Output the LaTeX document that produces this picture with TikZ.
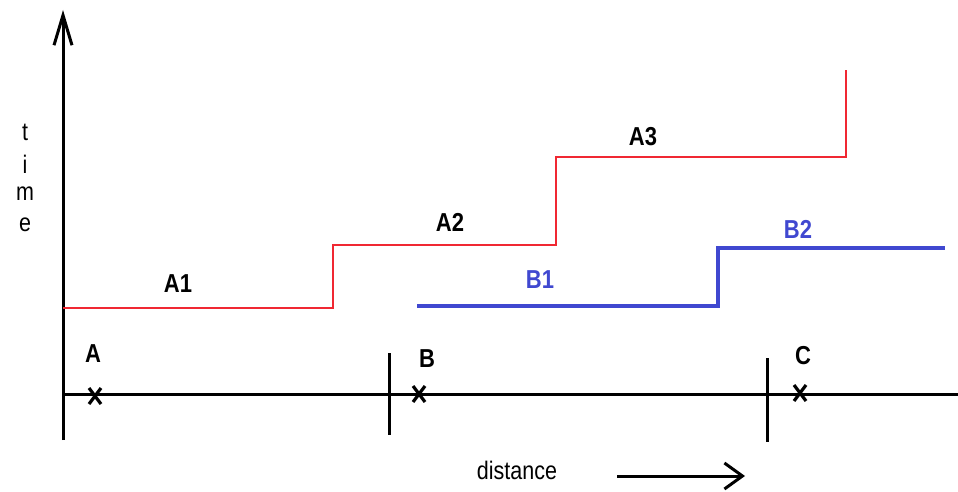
\documentclass[tikz,border=0pt]{standalone}
\usepackage{fontspec}
\setmainfont{Liberation Sans}
\usetikzlibrary{arrows.meta}
\definecolor{redline}{RGB}{240,40,50}
\definecolor{blueline}{RGB}{64,72,208}
\newcommand{\tallt}[1]{\scalebox{1}[1.18]{#1}}
\begin{document}
\begin{tikzpicture}[x=1pt,y=-1pt,
  axis/.style={line width=3pt,black},
  tickline/.style={line width=3pt,black},
  redpath/.style={line width=1.6pt,redline},
  bluepath/.style={line width=4pt,blueline},
  cross/.style={line width=3.2pt,black},
  lbl/.style={font=\fontsize{22}{24}\selectfont\bfseries,inner sep=0pt},
  bluelbl/.style={lbl,text=blueline},
  plain/.style={font=\fontsize{21.5}{24}\selectfont,inner sep=0pt}]
\useasboundingbox (0,0) rectangle (958,492);
% axes
\coordinate (ybot) at (63,440);
\coordinate (ytop) at (63,10);
\coordinate (xl) at (63,394);
\coordinate (xr) at (958,394);
\draw[axis,-{Straight Barb[length=30pt,width=18pt,line width=3pt]}] (ybot) -- (ytop);
\draw[axis] (xl) -- (xr);
% ticks
\coordinate (t1a) at (389,353); \coordinate (t1b) at (389,435);
\coordinate (t2a) at (767,358); \coordinate (t2b) at (767,442);
\draw[tickline] (t1a) -- (t1b);
\draw[tickline] (t2a) -- (t2b);
% crosses
\foreach \n/\cx/\cy in {xa/95/396, xb/419/394, xc/800/393}{
  \coordinate (\n) at (\cx,\cy);
  \draw[cross] ([shift={(-6,-8)}]\n) -- ([shift={(6,8)}]\n);
  \draw[cross] ([shift={(6,-8)}]\n) -- ([shift={(-6,8)}]\n);
}
\node[lbl] (la) at (93,354) {\tallt{A}};
\node[lbl] (lb) at (427,359) {\tallt{B}};
\node[lbl] (lc) at (803,356) {\tallt{C}};
% red steps
\coordinate (r0) at (63,308);
\coordinate (r1) at (333,308);
\coordinate (r2) at (333,245);
\coordinate (r3) at (556,245);
\coordinate (r4) at (556,157);
\coordinate (r5) at (846,157);
\coordinate (r6) at (846,70);
\draw[redpath] (r0) -- (r1) -- (r2) -- (r3) -- (r4) -- (r5) -- (r6);
\node[lbl] (a1) at (178,284) {\tallt{A1}};
\node[lbl] (a2) at (450,222) {\tallt{A2}};
\node[lbl] (a3) at (643,137) {\tallt{A3}};
% blue steps
\coordinate (b0) at (417,306);
\coordinate (b1) at (718,306);
\coordinate (b2) at (718,248);
\coordinate (b3) at (945,248);
\draw[bluepath] (b0) -- (b1) -- (b2) -- (b3);
\node[bluelbl] (lb1) at (540,280) {\tallt{B1}};
\node[bluelbl] (lb2) at (798,229) {\tallt{B2}};
% axis titles
\node[plain] (tt) at (25,132) {\tallt{t}};
\node[plain] (ti) at (25,164) {\tallt{i}};
\node[plain] (tm) at (25,194) {\tallt{m}};
\node[plain] (te) at (25,225) {\tallt{e}};
\node[plain] (dist) at (517,470) {\tallt{distance}};
\coordinate (da) at (617,476);
\coordinate (db) at (745,476);
\draw[line width=3pt,-{Straight Barb[length=18pt,width=26pt,line width=3pt]}] (da) -- (db);
\end{tikzpicture}
\end{document}
